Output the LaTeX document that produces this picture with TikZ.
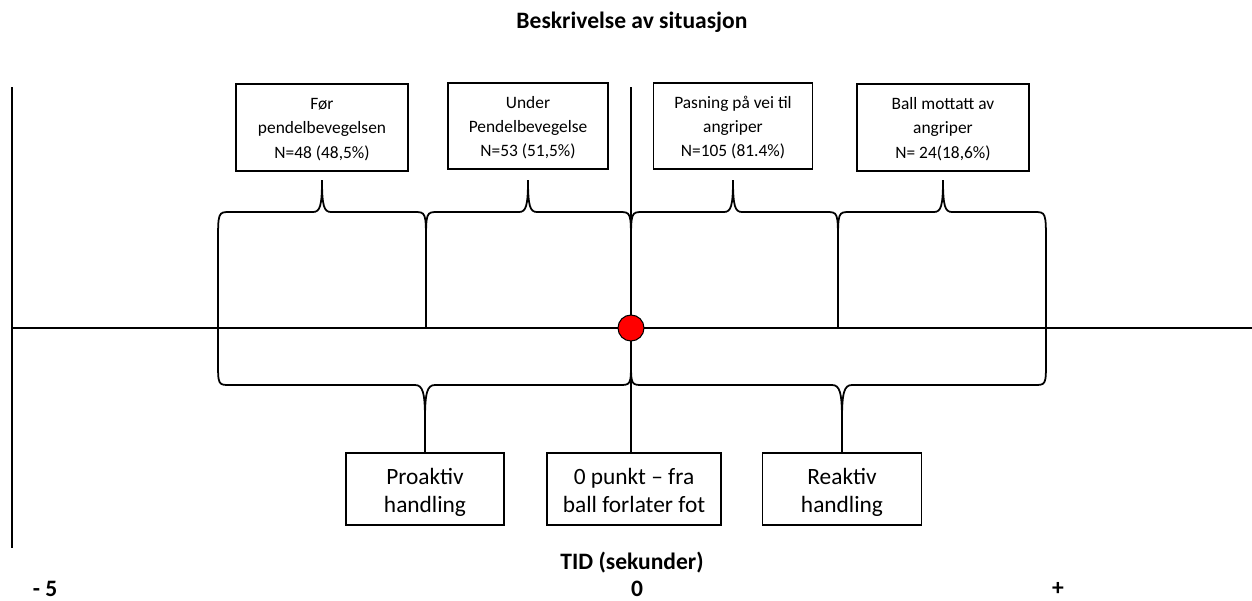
\documentclass[tikz,border=0pt]{standalone}
\usepackage{fontspec}
\setmainfont{Carlito}
\usetikzlibrary{positioning}

\begin{document}
\begin{tikzpicture}[x=0.02cm, y=-0.02cm, line width=1pt,
    every node/.style={inner sep=0pt},
    topbox/.style={draw, align=center, font=\fontsize{9.9}{13.9}\selectfont, minimum height=1.73cm},
    botbox/.style={draw, align=center, font=\fontsize{13.3}{16}\selectfont, minimum height=1.44cm},
    heading/.style={font=\bfseries\fontsize{13.4}{16}\selectfont}]

        \useasboundingbox (0,0) rectangle (1252,600);

        % Title
        \node[heading] (title) at (632,22) {Beskrivelse av situasjon};

        % Axes
        \coordinate (ytop) at (12,87);
        \coordinate (ybot) at (12,548);
        \coordinate (xend) at (1252,328);
        \coordinate (ctop) at (631,87);
        \draw (ytop) -- (ybot);
        \draw (ytop |- xend) -- (xend);

        % Boxes above the axis
        \node[topbox, minimum width=3.44cm] (foer) at (322,127.5) {\rule{0pt}{11.5pt}Før\\pendelbevegelsen\\N=48 (48,5\%)\strut};
        \node[topbox, minimum width=3.2cm] (under) at (528,126) {\rule{0pt}{11.5pt}Under\\Pendelbevegelse\\N=53 (51,5\%)\strut};
        \node[topbox, minimum width=3.18cm] (pasning) at (733,126) {\rule{0pt}{11.5pt}Pasning på vei til\\angriper\\N=105 (81.4\%)\strut};
        \node[topbox, minimum width=3.44cm] (mottatt) at (943,127.5) {\rule{0pt}{11.5pt}Ball mottatt av\\angriper\\N= 24(18,6\%)\strut};

        % Boxes below the axis
        \node[botbox, minimum width=3.16cm] (proaktiv) at (425,489) {\rule{0pt}{16pt}Proaktiv\\handling\strut};
        \node[botbox, minimum width=3.48cm] (null) at (634,489) {\rule{0pt}{16pt}0 punkt -- fra\\ball forlater fot\strut};
        \node[botbox, minimum width=3.18cm] (reaktiv) at (842,489) {\rule{0pt}{16pt}Reaktiv\\handling\strut};

        % Upper braces
        \foreach \a/\b/\m in {218/426/322, 426/631/528, 631/838/733, 838/1046/943}
            \draw (\a,245) .. controls (\a,212) .. (\a+12,212) -- (\m-9,212)
                .. controls (\m-2,212) and (\m,206) .. (\m,180) .. controls (\m,206) and (\m+2,212) .. (\m+9,212)
                -- (\b-12,212) .. controls (\b,212) .. (\b,245);

        % Lower braces
        \draw (218,360) .. controls (218,385) .. (230,385) -- (415,385)
            .. controls (423,385) and (425,393) .. (425,420) .. controls (425,393) and (427,385) .. (435,385)
            -- (619,385) .. controls (631,385) .. (631,360);
        \draw (631,360) .. controls (631,385) .. (643,385) -- (832,385)
            .. controls (840,385) and (842,393) .. (842,420) .. controls (842,393) and (844,385) .. (852,385)
            -- (1034,385) .. controls (1046,385) .. (1046,360);
        \draw (425,420) -- (proaktiv.north);
        \draw (842,420) -- (reaktiv.north);

        % Dividers
        \draw (218,245) -- (218,360);
        \draw (1046,245) -- (1046,360);
        \draw (426,245) -- (426,328);
        \draw (838,245) -- (838,328);
        \draw (ctop) -- (ctop |- null.north);

        % Zero point
        \node[circle, draw, fill=red, line width=0.6pt, minimum size=0.52cm] (nullpkt) at (631,328) {};

        % Time axis labels
        \node[heading] (tid) at (632,563) {TID (sekunder)};
        \node[heading] (minus) at (45,589) {- 5};
        \node[heading] (zero) at (637,589) {0};
        \node[heading] (plus) at (1058,589) {+};
    \end{tikzpicture}
\end{document}
